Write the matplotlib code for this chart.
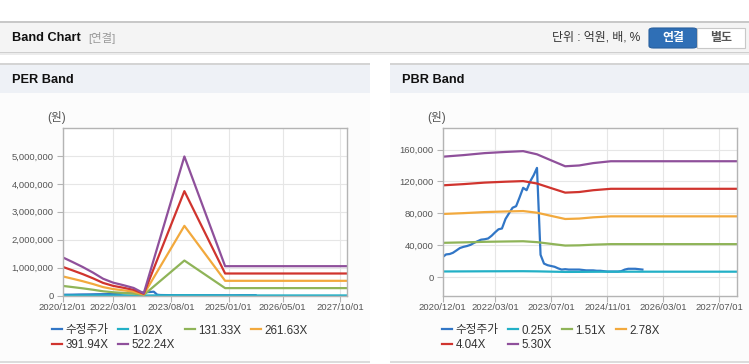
import numpy as np
import pandas as pd
import matplotlib
matplotlib.use('Agg')
import matplotlib.pyplot as plt
from matplotlib.patches import Rectangle, FancyBboxPatch
from matplotlib.ticker import FuncFormatter

plt.rcParams['font.family'] = ['Liberation Sans', 'Noto Sans CJK KR']

# ---- data ----
# adjusted price (monthly, from 2020/12)
price = [25000, 28500, 29000, 30500, 33500, 36500, 38000, 39000, 40500, 43000,
         45000, 47000, 47500, 48500, 52000, 56000, 60000, 61000, 73000, 80000,
         87000, 89000, 100000, 112000, 109000, 120000, 128000, 137000, 28000, 17000,
         15000, 14000, 13000, 11000, 9500, 10000, 9500, 9500, 9500, 9500,
         9000, 8500, 8500, 8500, 8000, 8000, 7500, 7000, 7000, 7000,
         7000, 7500, 9500, 10500, 10500, 10500, 10000, 9500]
price_dates = pd.date_range('2020-12-01', periods=len(price), freq='MS')

# PER band: EPS base and multiples
eps_dates = pd.to_datetime(['2020-12-01', '2021-03-01', '2021-06-01', '2021-09-01',
                            '2021-12-01', '2022-03-01', '2022-06-01', '2022-09-01',
                            '2022-12-01', '2023-12-01', '2024-12-01', '2027-12-01'])
eps = [2623, 2298, 1953, 1570, 1149, 881, 708, 517, 153, 9536, 2011, 2011]
per_mult = [1.02, 131.33, 261.63, 391.94, 522.24]
per_labels = ['1.02X', '131.33X', '261.63X', '391.94X', '522.24X']
per_ticks = ['2020-12-01', '2022-03-01', '2023-08-01', '2025-01-01', '2026-05-01', '2027-10-01']

# PBR band: BPS base and multiples
bps_dates = pd.to_datetime(['2020-12-01', '2021-06-01', '2021-12-01', '2022-06-01',
                            '2022-11-01', '2023-03-01', '2023-07-01', '2023-11-01',
                            '2024-03-01', '2024-07-01', '2024-12-01', '2027-12-01'])
bps = [28490, 28870, 29340, 29620, 29810, 29060, 27640, 26230, 26420, 26980, 27420, 27420]
pbr_mult = [0.25, 1.51, 2.78, 4.04, 5.30]
pbr_labels = ['0.25X', '1.51X', '2.78X', '4.04X', '5.30X']
pbr_ticks = ['2020-12-01', '2022-03-01', '2023-07-01', '2024-11-01', '2026-03-01', '2027-07-01']

price_color = '#3176c6'
band_colors = ['#22b0c6', '#8fb458', '#f2a93d', '#d0342e', '#8f509b']

W, H = 749, 364
fig = plt.figure(figsize=(W / 100, H / 100), dpi=100)
fig.patch.set_facecolor('white')


def fx(x):
    return x / W


def fy(y):
    return 1 - y / H


def box(x0, y0, x1, y1, **kw):
    fig.patches.append(Rectangle((fx(x0), fy(y1)), fx(x1) - fx(x0), fy(y0) - fy(y1),
                                 transform=fig.transFigure, lw=0, zorder=-5, **kw))


# header bar
box(0, 21, 749, 23, color='#c8c8c8')
box(0, 23, 749, 52, color='#f4f4f4')
box(0, 52, 749, 53, color='#cfcfcf')
box(0, 53, 749, 55, color='#ececec')
fig.text(fx(12), fy(38), 'Band Chart', fontsize=9.2, fontweight='bold', va='center', color='#111')
fig.text(fx(88), fy(38), '[연결]', fontsize=8.2, va='center', color='#999')
fig.text(fx(640), fy(38), '단위 : 억원, 배, %', fontsize=8.6, va='center', ha='right', color='#333')
fig.patches.append(FancyBboxPatch((fx(649), fy(48)), fx(697) - fx(649), fy(28) - fy(48),
                                  boxstyle='round,pad=0,rounding_size=0.006',
                                  transform=fig.transFigure, fc='#2f6fb6', ec='#285f9e', lw=0.8))
fig.patches.append(Rectangle((fx(697), fy(48)), fx(745) - fx(697), fy(28) - fy(48),
                             transform=fig.transFigure, fc='white', ec='#c8c8c8', lw=0.8))
fig.text(fx(673), fy(38), '연결', fontsize=8.6, fontweight='bold', va='center', ha='center', color='white')
fig.text(fx(721), fy(38), '별도', fontsize=8.6, fontweight='bold', va='center', ha='center', color='#555')

# panels
for x0, x1, title in [(0, 370, 'PER Band'), (390, 749, 'PBR Band')]:
    box(x0, 63, x1, 64.5, color='#d4d4d4')
    box(x0, 64.5, x1, 93, color='#eef1f6')
    box(x0, 93, x1, 361, color='#fcfcfc')
    box(x0, 361, x1, 363, color='#dcdcdc')
    fig.text(fx(x0 + 12), fy(80), title, fontsize=9.2, fontweight='bold', va='center', color='#111')


def style_axis(ax, ticks):
    ax.set_facecolor('white')
    for s in ax.spines.values():
        s.set_color('#b4b4b4')
        s.set_linewidth(1)
    ax.grid(True, color='#e6e6e6', lw=0.8)
    ax.set_axisbelow(True)
    ax.tick_params(colors='#b4b4b4', labelcolor='#555', labelsize=6.8, length=4, pad=2.5)
    ax.tick_params(axis='x', pad=1.2)
    ax.set_xlim(pd.Timestamp('2020-12-01'), pd.Timestamp('2027-12-01'))
    ax.set_xticks(pd.to_datetime(ticks))
    ax.set_xticklabels([t.replace('-', '/') for t in ticks])
    ax.yaxis.set_major_formatter(FuncFormatter(lambda v, p: f'{v:,.0f}'))


def draw(ax, base_dates, base, mults, labels, legend_x):
    handles = [ax.plot(price_dates, price, color=price_color, lw=1.6)[0]]
    for m, c in zip(mults, band_colors):
        handles.append(ax.plot(base_dates, np.array(base) * m, color=c, lw=1.6)[0])
    names = ['수정주가'] + labels
    order = [0, 4, 1, 5, 2, 3]
    ax.legend([handles[i] for i in order], [names[i] for i in order], ncol=4,
              loc='upper left', bbox_to_anchor=(fx(legend_x), fy(324.5)),
              bbox_transform=fig.transFigure, frameon=False, fontsize=8.4,
              handlelength=0.85, handletextpad=0.3, columnspacing=0.85,
              labelspacing=0.22, borderpad=0, borderaxespad=0, labelcolor='#333')


ax1 = fig.add_axes([fx(62.5), fy(295.5), fx(347) - fx(62.5), fy(128) - fy(295.5)])
style_axis(ax1, per_ticks)
draw(ax1, eps_dates, eps, per_mult, per_labels, 52)
ax1.set_ylim(0, 6000000)
ax1.set_yticks(range(0, 5000001, 1000000))
fig.text(fx(57), fy(117), '(원)', fontsize=8.4, ha='center', va='center', color='#555')

ax2 = fig.add_axes([fx(442.5), fy(295.5), fx(737) - fx(442.5), fy(128) - fy(295.5)])
style_axis(ax2, pbr_ticks)
draw(ax2, bps_dates, bps, pbr_mult, pbr_labels, 442)
ax2.set_ylim(-23000, 187000)
ax2.set_yticks(range(0, 160001, 40000))
fig.text(fx(437), fy(117), '(원)', fontsize=8.4, ha='center', va='center', color='#555')

fig.savefig('out.png', dpi=100)
